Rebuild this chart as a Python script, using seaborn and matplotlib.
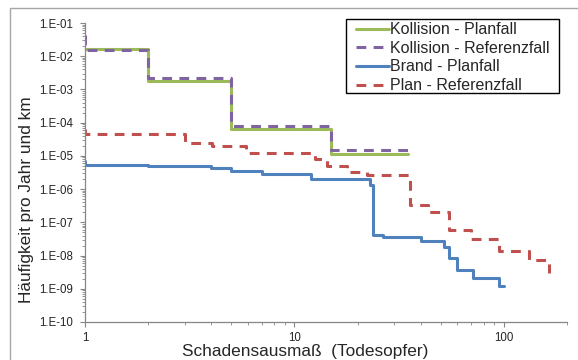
import numpy as np
import pandas as pd
import seaborn as sns
import matplotlib
matplotlib.use("Agg")
import matplotlib.pyplot as plt
from matplotlib.patches import Rectangle
from matplotlib.ticker import FuncFormatter, LogLocator

# step curves: x = start of each step, y = frequency from that point on
koll_plan_x = [1, 2, 5, 15, 35]
koll_plan_y = [1.6e-2, 1.8e-3, 6.6e-5, 1.18e-5, 1.18e-5]

koll_ref_x = [1, 1, 2, 5, 15, 35]
koll_ref_y = [4.3e-2, 1.55e-2, 2.2e-3, 8.1e-5, 1.55e-5, 1.55e-5]

brand_x = [1, 1, 2, 4, 5, 7, 12, 23, 23.8, 26.6, 40, 52, 54.5, 59.5, 71, 94.6, 100]
brand_y = [6.8e-6, 5.4e-6, 4.9e-6, 4.3e-6, 3.4e-6, 2.9e-6, 2.0e-6, 1.3e-6, 4.1e-8,
           3.55e-8, 2.75e-8, 1.8e-8, 8.3e-9, 3.6e-9, 2.1e-9, 1.2e-9, 1.2e-9]

plan_ref_x = [1, 1, 3, 4.06, 5.9, 12.5, 14.3, 17.9, 22.3, 35.8, 43.2, 54.5, 69.5,
              94.6, 132, 164]
plan_ref_y = [6.5e-5, 4.7e-5, 2.4e-5, 2.0e-5, 1.24e-5, 8.1e-6, 5.1e-6, 3.2e-6, 2.6e-6,
              3.4e-7, 2.0e-7, 5.8e-8, 3.2e-8, 1.35e-8, 7.2e-9, 2.9e-9]

labels = ["Kollision - Planfall", "Kollision - Referenzfall",
          "Brand - Planfall", "Plan - Referenzfall"]
colors = ["#9BBB59", "#8064A2", "#4F81BD", "#C0504D"]

sns.set_style("ticks")
plt.rcParams["font.family"] = ["Liberation Sans", "DejaVu Sans"]

W, H = 578, 360
fig = plt.figure(figsize=(W / 100, H / 100), dpi=100)
ax = fig.add_axes([85 / W, 1 - 322 / H, (567 - 85) / W, (322 - 23) / H])

dash = (0, (3.2, 2.4))
series = [(koll_plan_x, koll_plan_y, "-"), (koll_ref_x, koll_ref_y, dash),
          (brand_x, brand_y, "-"), (plan_ref_x, plan_ref_y, dash)]
for (xs, ys, ls), lab, col in zip(series, labels, colors):
    sns.lineplot(x=xs, y=ys, ax=ax, estimator=None, sort=False,
                 drawstyle="steps-post", color=col, lw=2.2, linestyle=ls,
                 label=lab, legend=False)

ax.set_xscale("log")
ax.set_yscale("log")
ax.set_xlim(1, 200)
ax.set_ylim(1e-10, 1e-1)
ax.yaxis.set_major_locator(LogLocator(base=10, numticks=20))
ax.yaxis.set_minor_locator(LogLocator(base=10, subs=np.arange(2, 10), numticks=20))
ax.yaxis.set_major_formatter(FuncFormatter(lambda v, p: f"1.E{int(round(np.log10(v))):03d}"))
ax.xaxis.set_major_formatter(FuncFormatter(lambda v, p: f"{v:g}"))
ax.xaxis.set_minor_formatter(FuncFormatter(lambda v, p: ""))

for side in ["top", "right"]:
    ax.spines[side].set_visible(False)
for side in ["left", "bottom"]:
    ax.spines[side].set_color("#868686")
    ax.spines[side].set_linewidth(0.9)
ax.tick_params(which="major", direction="out", length=3.5, width=0.8,
               color="#868686", labelsize=8.3, pad=5)
ax.tick_params(which="minor", direction="out", length=2, width=0.6, color="#868686")
ax.tick_params(axis="x", which="major", pad=3.5)

ax.set_xlabel("Schadensausmaß  (Todesopfer)", fontsize=12.4)
ax.set_ylabel("Häufigkeit pro Jahr und km", fontsize=12.4)
ax.xaxis.set_label_coords((305 - 85) / 482, -0.075)
ax.yaxis.set_label_coords((34 - 85) / 482, (322 - 199.5) / 299)

# legend box and entries
ax.add_patch(Rectangle((346 / W, 1 - 93 / H), (559 - 346) / W, (93 - 19) / H,
                       transform=fig.transFigure, facecolor="white",
                       edgecolor="black", lw=1.0, zorder=5, clip_on=False))
leg = ax.legend(loc="upper left", bbox_to_anchor=(354 / W, 1 - 20.5 / H),
                bbox_transform=fig.transFigure, frameon=False, fontsize=11.5,
                handlelength=2.1, handletextpad=0.07, labelspacing=0.23,
                borderpad=0.1, borderaxespad=0)
leg.set_zorder(6)

# outer chart frame
fig.patches.append(Rectangle((10 / W, -0.05), 1.0, 1 - 8 / H + 0.05,
                             transform=fig.transFigure, fill=False,
                             edgecolor="#A6A6A6", lw=1.0, zorder=0))

fig.savefig("out.png", dpi=100)
